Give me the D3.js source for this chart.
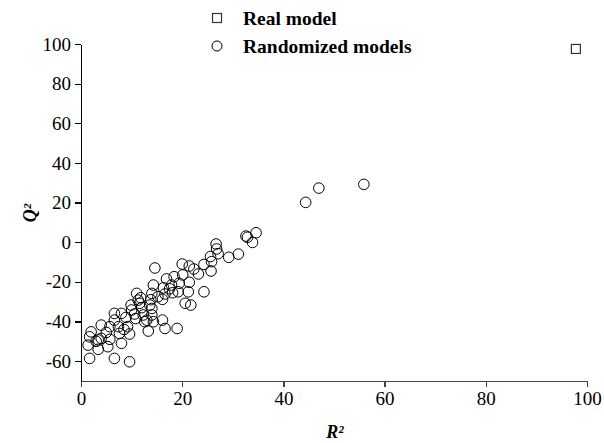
<!DOCTYPE html>
<html lang="en">
<head>
    <meta charset="UTF-8">
    <title>Y-randomization</title>
    <script src="https://d3js.org/d3.v7.min.js"></script>
    <style>
        body { margin: 0; background: #fff; }
        text { font-family: "Liberation Serif", "Times New Roman", serif; }
        .axis path, .axis line { fill: none; shape-rendering: crispEdges; }
        .axis text { font-size: 19px; fill: #000; font-family: "Liberation Serif", "Times New Roman", serif; }
    </style>
</head>
<body>
<svg width="604" height="443"></svg>
<script>
    // real model (R², Q²)
    const realModel = [[97.8, 97.5]];

    // randomized models (R², Q²)
    const randomR2 = [55.9, 47.0, 44.4, 34.6, 32.6, 32.9, 33.9, 31.1, 29.2,
        26.7, 26.8, 27.1, 25.6, 25.8, 24.3, 25.7, 23.2, 24.3,
        20.0, 21.4, 21.4, 20.1, 18.4, 16.9, 19.4, 17.9, 16.3, 14.6, 14.3,
        14.0, 16.6, 16.1, 18.1, 19.2, 21.2, 20.6, 21.7,
        11.0, 11.3, 9.9, 11.6, 13.6, 14.0, 14.0, 13.0, 12.3, 10.6, 10.0, 12.6,
        6.6, 8.0, 8.9, 6.6, 7.4, 9.2, 7.6, 9.6,
        4.0, 5.7, 2.0, 1.7, 4.0, 5.7, 3.4,
        1.4, 3.4, 5.3, 8.0, 1.7, 6.6, 9.6,
        13.3, 16.1, 16.6, 19.0, 14.3,
        12.0, 15.2, 17.5, 22.3, 10.8, 8.5, 5.0, 3.0, 11.8, 13.8];
    const randomQ2 = [29.2, 27.3, 20.1, 4.8, 3.1, 2.5, -0.1, -6.0, -7.6,
        -0.9, -3.4, -5.8, -7.2, -9.8, -11.2, -14.5, -16.0, -25.0,
        -11.0, -12.0, -20.2, -16.5, -17.4, -18.5, -20.7, -21.6, -23.0, -13.0, -21.6,
        -25.8, -26.1, -28.8, -25.5, -25.0, -25.0, -30.8, -31.7,
        -25.8, -29.2, -31.7, -30.8, -31.7, -33.4, -36.7, -39.3, -36.7, -36.2, -34.2, -40.1,
        -35.9, -35.9, -37.9, -39.3, -42.6, -42.6, -46.0, -46.3,
        -41.8, -42.6, -45.2, -47.7, -48.5, -49.0, -49.3,
        -51.9, -54.0, -52.7, -51.0, -58.6, -58.6, -60.3,
        -44.8, -39.3, -43.5, -43.5, -40.1,
        -33.0, -27.5, -23.5, -13.5, -38.5, -44.0, -45.5, -50.0, -28.0, -29.0];

    const xTicks = [0, 20, 40, 60, 80, 100];
    const yTicks = [-60, -40, -20, 0, 20, 40, 60, 80, 100];
    const legendLabels = ["Real model", "Randomized models"];

    const svg = d3.select("svg");

    const x = d3.scaleLinear().domain([0, 100]).range([81, 587]);
    const y = d3.scaleLinear().domain([-70, 100]).range([381, 44]);

    // axes (plain hyphen for negatives, like the original)
    svg.append("g")
        .attr("class", "axis")
        .attr("transform", "translate(0,381)")
        .call(d3.axisBottom(x).tickValues(xTicks).tickFormat(d => String(d))
            .tickSize(6).tickSizeOuter(0).tickPadding(5))
        .call(g => g.selectAll("path, line").attr("stroke", "#444").attr("stroke-width", 1.5));

    svg.append("g")
        .attr("class", "axis")
        .attr("transform", "translate(81,0)")
        .call(d3.axisLeft(y).tickValues(yTicks).tickFormat(d => String(d))
            .tickSize(6).tickSizeOuter(0).tickPadding(4))
        .call(g => g.selectAll("path, line").attr("stroke", "#000").attr("stroke-width", 1.2));

    // axis titles
    svg.append("text")
        .attr("x", 335).attr("y", 438)
        .attr("text-anchor", "middle")
        .attr("font-size", 18).attr("font-weight", "bold").attr("font-style", "italic")
        .text("R²");

    svg.append("text")
        .attr("transform", "translate(36,213) rotate(-90)")
        .attr("text-anchor", "middle")
        .attr("font-size", 18).attr("font-weight", "bold").attr("font-style", "italic")
        .text("Q²");

    // randomized points
    const randomPts = randomR2.map((r, i) => [r, randomQ2[i]]);
    svg.append("g").selectAll("circle")
        .data(randomPts)
        .join("circle")
        .attr("cx", d => x(d[0]))
        .attr("cy", d => y(d[1]))
        .attr("r", 5.3)
        .attr("fill", "none")
        .attr("stroke", "#000")
        .attr("stroke-width", 1);

    // real model point
    svg.append("g").selectAll("rect")
        .data(realModel)
        .join("rect")
        .attr("x", d => x(d[0]) - 4.5)
        .attr("y", d => y(d[1]) - 4.5)
        .attr("width", 9).attr("height", 9)
        .attr("fill", "none")
        .attr("stroke", "#333")
        .attr("stroke-width", 1.2);

    // legend
    const legend = svg.append("g").selectAll("g")
        .data(legendLabels)
        .join("g")
        .attr("transform", (d, i) => `translate(217,${18 + i * 28})`);

    legend.filter((d, i) => i === 0).append("rect")
        .attr("x", -4.5).attr("y", -4.5).attr("width", 9).attr("height", 9)
        .attr("fill", "none").attr("stroke", "#333").attr("stroke-width", 1.2);

    legend.filter((d, i) => i === 1).append("circle")
        .attr("r", 5).attr("fill", "none").attr("stroke", "#000");

    legend.append("text")
        .attr("x", 26).attr("dy", "0.35em")
        .attr("font-size", 19.5).attr("font-weight", "bold")
        .text(d => d);
</script>
</body>
</html>
